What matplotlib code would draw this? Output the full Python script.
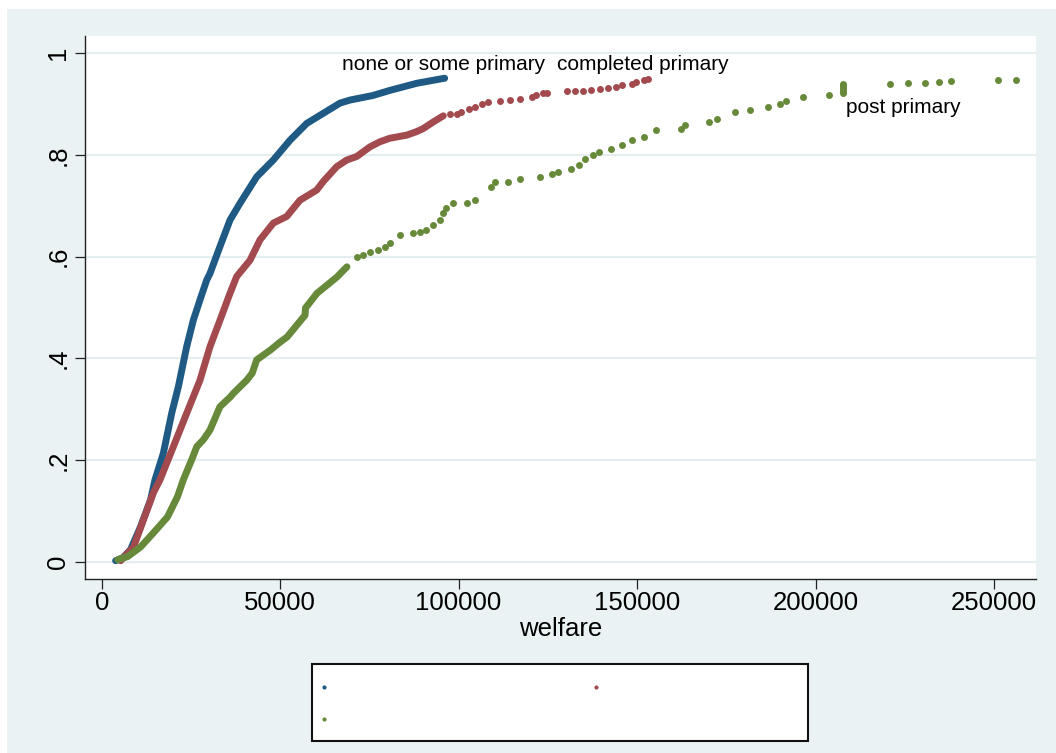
import matplotlib
matplotlib.use("Agg")
import matplotlib.pyplot as plt
from matplotlib.patches import Rectangle
from matplotlib.lines import Line2D

plt.rcParams['font.family'] = ['Liberation Sans', 'DejaVu Sans']

# Cumulative share of households by welfare, per education group.
# "body" = densely observed part, "tail" = sparse individual observations.
none_body_x = [3900, 6000, 8100, 10900, 13700, 14930, 17260, 19610, 21470, 23810,
               25670, 27540, 29420, 30340, 33140, 35950, 38750, 43420, 48080, 52760,
               57430, 62090, 66760, 69560, 75980, 80730, 88270, 96090]
none_body_y = [0.002, 0.008, 0.024, 0.069, 0.122, 0.161, 0.213, 0.292, 0.344, 0.423,
               0.475, 0.515, 0.554, 0.567, 0.620, 0.672, 0.705, 0.757, 0.790, 0.829,
               0.862, 0.882, 0.902, 0.908, 0.917, 0.927, 0.941, 0.951]

prim_body_x = [5300, 8940, 11730, 14520, 16330, 20060, 23810, 27540, 30340, 33140,
               35950, 37820, 41560, 44350, 48080, 51820, 55560, 60240, 62090, 65840,
               68640, 71450, 75170, 77970, 80770, 85450, 88250, 90110, 92910, 95710]
prim_body_y = [0.002, 0.029, 0.083, 0.136, 0.161, 0.226, 0.292, 0.357, 0.423, 0.475,
               0.528, 0.561, 0.593, 0.633, 0.666, 0.679, 0.711, 0.731, 0.748, 0.777,
               0.790, 0.797, 0.816, 0.826, 0.833, 0.839, 0.846, 0.852, 0.865, 0.877]
prim_tail_x = [97580, 99450, 100620, 102900, 104610, 106420, 108130, 111550, 114400,
               117250, 120670, 121810, 123520, 124660, 130360, 132640, 134920, 137200,
               139480, 141760, 144040, 145750, 148600, 149740, 152020, 153160]
prim_tail_y = [0.881, 0.881, 0.885, 0.891, 0.894, 0.901, 0.904, 0.907, 0.909,
               0.911, 0.914, 0.917, 0.921, 0.922, 0.925, 0.926, 0.926, 0.927,
               0.929, 0.931, 0.934, 0.937, 0.940, 0.944, 0.948, 0.950]

post_body_x = [4470, 7260, 10900, 14520, 18430, 21230, 22860, 25420, 26620, 28490,
               30340, 33140, 36030, 36870, 40630, 42180, 43430, 47210, 50000, 51950,
               54750, 56980, 57100, 60330, 63130, 65920, 68710]
post_body_y = [0.004, 0.010, 0.029, 0.057, 0.088, 0.128, 0.161, 0.204, 0.226, 0.240,
               0.259, 0.305, 0.324, 0.331, 0.357, 0.371, 0.397, 0.416, 0.432, 0.442,
               0.466, 0.485, 0.499, 0.528, 0.544, 0.560, 0.580]
post_tail_x = [71410, 73270, 75140, 77460, 79330, 80730, 83520, 87240, 89100, 90960,
               92830, 94690, 95530, 96500, 98340, 102330, 104610, 109170, 110310,
               113730, 117150, 122850, 126270, 127980, 131400, 133680, 135390, 137670,
               139380, 142800, 145650, 148500, 151920, 155340, 162180, 163320, 170160,
               172440, 177570, 181560, 186690, 190110, 191820, 196380, 203790,
               207780, 207780, 207780, 207780, 207780, 207780,
               220890, 226020, 230580, 234570, 237990, 251100, 256230]
post_tail_y = [0.600, 0.603, 0.610, 0.613, 0.619, 0.626, 0.642, 0.646, 0.649, 0.652,
               0.662, 0.672, 0.686, 0.695, 0.705, 0.705, 0.711, 0.737, 0.747,
               0.747, 0.753, 0.756, 0.763, 0.767, 0.773, 0.780, 0.793, 0.799,
               0.806, 0.812, 0.819, 0.829, 0.836, 0.849, 0.852, 0.858, 0.865,
               0.871, 0.884, 0.888, 0.894, 0.901, 0.907, 0.914, 0.917,
               0.921, 0.925, 0.929, 0.933, 0.937, 0.940,
               0.939, 0.941, 0.942, 0.943, 0.945, 0.947, 0.947]

group_labels = ["none or some primary", "completed primary", "post primary"]
label_x = [95760, 151520, 208500]
label_y = [0.977, 0.977, 0.894]

x_ticks = [0, 50000, 100000, 150000, 200000, 250000]
y_ticks = [0, 0.2, 0.4, 0.6, 0.8, 1.0]
y_tick_labels = ["0", ".2", ".4", ".6", ".8", "1"]

BLUE = "#1f5a85"
RED = "#a34a4f"
GREEN = "#678a3a"
BG = "#eaf2f3"
GRID = "#e4eef0"

W, H = 1056, 753
fig = plt.figure(figsize=(W / 100, H / 100), dpi=100, facecolor="white")
fig.patches.append(Rectangle((7 / W, 0), 1 - 7 / W, (H - 9) / H,
                             transform=fig.transFigure, facecolor=BG,
                             edgecolor="none", zorder=-10))

ax = fig.add_axes([85 / W, 1 - 579 / H, (1036 - 85) / W, (579 - 36) / H])
ax.set_facecolor("white")

line_w = 5.0
dot_ms = 5.0
ax.plot(none_body_x, none_body_y, "-", color=BLUE, lw=line_w,
        solid_capstyle="round", solid_joinstyle="round", zorder=3)
ax.plot(prim_body_x, prim_body_y, "-", color=RED, lw=line_w,
        solid_capstyle="round", solid_joinstyle="round", zorder=3)
ax.plot(prim_tail_x, prim_tail_y, "o", color=RED, ms=dot_ms, mew=0, zorder=3)
ax.plot(post_body_x, post_body_y, "-", color=GREEN, lw=line_w,
        solid_capstyle="round", solid_joinstyle="round", zorder=3)
ax.plot(post_tail_x, post_tail_y, "o", color=GREEN, ms=dot_ms, mew=0, zorder=3)

ax.text(label_x[0], label_y[0], group_labels[0], ha="center", va="center", fontsize=15)
ax.text(label_x[1], label_y[1], group_labels[1], ha="center", va="center", fontsize=15)
ax.text(label_x[2], label_y[2], group_labels[2], ha="left", va="center", fontsize=15)

ax.set_xlim(-4679, 261770)
ax.set_ylim(-0.034, 1.034)
ax.set_xticks(x_ticks)
ax.set_xticklabels([str(v) for v in x_ticks])
ax.set_yticks(y_ticks)
ax.set_yticklabels(y_tick_labels, rotation=90, va="center")
ax.grid(axis="y", color=GRID, lw=1.6)
ax.set_axisbelow(True)
for side in ("top", "right"):
    ax.spines[side].set_visible(False)
for side in ("left", "bottom"):
    ax.spines[side].set_linewidth(1.0)
    ax.spines[side].set_color("#222222")
ax.tick_params(axis="both", direction="out", length=7.5, width=0.9,
               color="#222222", labelsize=18.5)
ax.tick_params(axis="x", pad=1.5)
ax.tick_params(axis="y", pad=3)
ax.set_xlabel("welfare", fontsize=18.5, labelpad=1)

# Legend: framed box with the three marker keys
fig.patches.append(Rectangle((312 / W, 1 - 741 / H), (808 - 312) / W, (741 - 664) / H,
                             transform=fig.transFigure, facecolor="white",
                             edgecolor="#111111", lw=1.5, zorder=1))
handles = [Line2D([], [], ls="none", marker="o", ms=3, mew=0, color=BLUE),
           Line2D([], [], ls="none", marker="o", ms=3, mew=0, color=GREEN),
           Line2D([], [], ls="none", marker="o", ms=3, mew=0, color=RED)]
leg = fig.legend(handles=handles, labels=["", "", ""], ncol=2, loc="upper left",
                 bbox_to_anchor=(317.06 / W, 1 - 681.3 / H),
                 bbox_transform=fig.transFigure, frameon=False, fontsize=10,
                 handlelength=1.0, handletextpad=0, columnspacing=18.58,
                 labelspacing=1.25, borderpad=0, borderaxespad=0, numpoints=1)
leg.set_zorder(5)

fig.savefig("out.png", dpi=100, facecolor=fig.get_facecolor())
